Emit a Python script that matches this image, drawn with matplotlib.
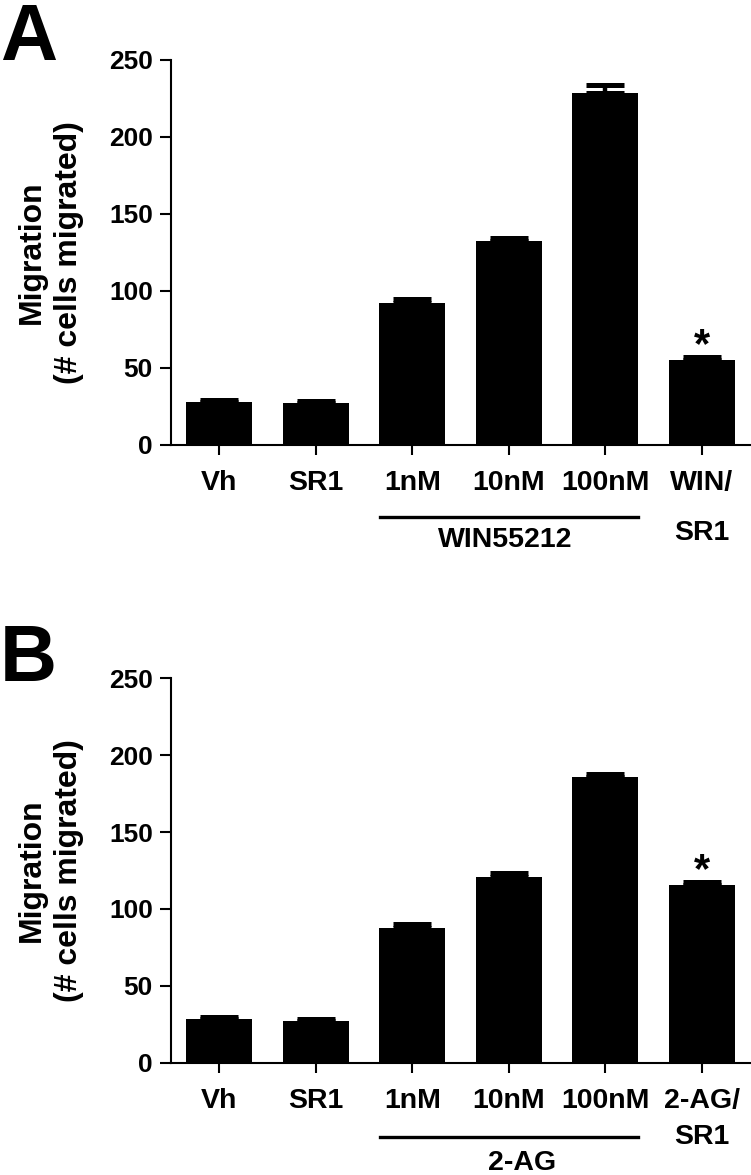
import matplotlib
matplotlib.use("Agg")
import matplotlib.pyplot as plt
import numpy as np

plt.rcParams['font.family'] = ['Liberation Sans', 'DejaVu Sans']
plt.rcParams['font.weight'] = 'bold'

# panel A: WIN55212
labels_a = ['Vh', 'SR1', '1nM', '10nM', '100nM', 'WIN/\nSR1']
mean_a = [28.1, 27.1, 92.4, 132.5, 228.6, 55.2]
sem_a = [1.3, 1.3, 2.3, 1.9, 4.8, 2.1]
group_a = 'WIN55212'

# panel B: 2-AG
labels_b = ['Vh', 'SR1', '1nM', '10nM', '100nM', '2-AG/\nSR1']
mean_b = [28.4, 27.3, 87.5, 120.7, 185.9, 115.7]
sem_b = [1.0, 1.0, 2.5, 2.5, 1.9, 2.1]
group_b = '2-AG'

yticks = [0, 50, 100, 150, 200, 250]
ylabel = 'Migration\n(# cells migrated)'

fig = plt.figure(figsize=(7.51, 11.75), dpi=100)
ax_a = fig.add_axes([0.2277, 0.6213, 0.771, 0.3277])
ax_b = fig.add_axes([0.2277, 0.0957, 0.771, 0.3270])


def draw_panel(ax, labels, means, sems, group, line_y, text_y, text_x, spacing):
    x = np.arange(len(labels))
    ax.bar(x, means, width=0.68, color='black', zorder=2)
    ax.errorbar(x, means, yerr=[np.zeros(len(sems)), sems], fmt='none',
                ecolor='black', elinewidth=3.2, capsize=13.5, capthick=3.6,
                zorder=3)
    ax.set_xlim(-0.5, 5.5)
    ax.set_ylim(0, 250)
    ax.set_yticks(yticks)
    ax.set_xticks(x)
    ax.set_xticklabels(labels, fontsize=20.5, fontweight='bold')
    ax.get_xticklabels()[-1].set_linespacing(spacing)
    ax.tick_params(axis='y', labelsize=19, length=8, width=1.5, pad=5)
    ax.tick_params(axis='x', length=7, width=1.5, pad=11)
    for lab in ax.get_yticklabels():
        lab.set_fontweight('bold')
    for side in ['top', 'right']:
        ax.spines[side].set_visible(False)
    for side in ['left', 'bottom']:
        ax.spines[side].set_linewidth(1.5)
    ax.set_ylabel(ylabel, fontsize=23, fontweight='bold', linespacing=1.3)
    ax.yaxis.set_label_coords(-0.15, 0.5)

    # significance star above last bar
    ax.annotate('*', xy=(x[-1], means[-1] + sems[-1]), xytext=(0, -0.5),
                textcoords='offset points', ha='center', va='baseline',
                fontsize=30, fontweight='bold')

    # bracket line under the concentration group
    tr = ax.get_xaxis_transform()
    ax.plot([1.67, 4.34], [line_y, line_y], color='black', lw=2.4,
            transform=tr, clip_on=False)
    ax.text(text_x, text_y, group, transform=tr, ha='center', va='center',
            fontsize=20.5, fontweight='bold')


draw_panel(ax_a, labels_a, mean_a, sem_a, group_a, -0.187, -0.247, 2.96, 2.2)
draw_panel(ax_b, labels_b, mean_b, sem_b, group_b, -0.193, -0.262, 3.14, 1.5)

fig.text(0.0, 1 - 60 / 1175, 'A', fontsize=57, fontweight='bold',
         ha='left', va='baseline')
fig.text(0.0, 1 - 681 / 1175, 'B', fontsize=57, fontweight='bold',
         ha='left', va='baseline')

fig.savefig('out.png', dpi=100)
